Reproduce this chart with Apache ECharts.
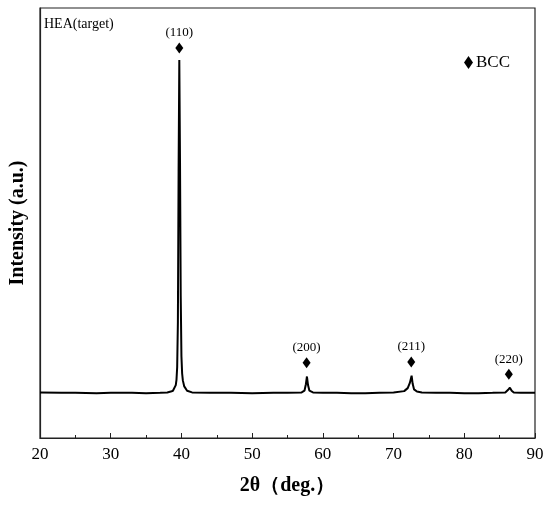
<!DOCTYPE html>
<html>
<head>
<meta charset="utf-8">
<script src="https://cdn.jsdelivr.net/npm/echarts@6/dist/echarts.min.js"></script>
<style>
  html, body { margin: 0; padding: 0; background: #fff; }
  #root { width: 550px; height: 508px; }
</style>
</head>
<body>
<div id="root"></div>
<script>
  // XRD pattern (2theta in deg, intensity in arbitrary units 0-100)
  var twoTheta = [20, 23, 25, 28, 30, 33, 35, 37, 38, 38.5, 38.8, 39.0, 39.2, 39.3, 39.4, 39.5, 39.6, 39.7, 39.8, 39.9, 40.0, 40.1, 40.2, 40.4, 40.8, 41.5,
    44, 47, 50, 53, 55, 57.0, 57.4, 57.6, 57.75, 57.9, 58.1, 58.6, 60, 62, 64, 66, 68, 70, 71.5, 72.0, 72.3, 72.55, 72.7,
    72.9, 73.3, 74, 76, 78, 80, 82, 84, 85.8, 86.2, 86.45, 86.7, 87, 88, 90];
  var intensity = [10.6, 10.5, 10.5, 10.4, 10.5, 10.5, 10.4, 10.5, 10.6, 10.8, 11.0, 11.4, 12.3, 13.5, 16.5, 27, 62, 87.9, 64, 33, 19, 15, 13.4, 12, 11, 10.6,
    10.5, 10.5, 10.4, 10.5, 10.5, 10.6, 11, 12.5, 14.3, 12.3, 11, 10.6, 10.5, 10.5, 10.4, 10.4, 10.5, 10.6, 10.9, 11.6, 12.8, 14.5, 12.6,
    11.3, 10.8, 10.6, 10.5, 10.5, 10.4, 10.4, 10.5, 10.6, 11.2, 11.7, 11.0, 10.6, 10.5, 10.5];

  // BCC reflections: position, marker height, label
  var peakPos = [39.7, 57.7, 72.5, 86.3];
  var peakMark = [90.7, 17.5, 17.7, 14.8];
  var peakLabels = ['(110)', '(200)', '(211)', '(220)'];

  var xTicks = [20, 30, 40, 50, 60, 70, 80, 90];

  var serif = '"Liberation Serif", "Times New Roman", serif';

  var chart = echarts.init(document.getElementById('root'));

  var line = twoTheta.map(function (x, i) { return [x, intensity[i]]; });
  var marks = peakPos.map(function (x, i) { return { value: [x, peakMark[i]], name: peakLabels[i] }; });

  chart.setOption({
    animation: false,
    title: {
      text: 'HEA(target)',
      left: 44, top: 17,
      padding: 0,
      textStyle: { fontFamily: serif, fontSize: 14, fontWeight: 'normal', color: '#000' }
    },
    legend: {
      data: ['BCC'],
      left: 459, top: 49,
      itemWidth: 9, itemHeight: 13, itemGap: 4,
      textStyle: { fontFamily: serif, fontSize: 17, color: '#000', padding: [0, 0, 0, -2] }
    },
    grid: {
      left: 38, right: 15, top: 8, bottom: 70,
      show: true, borderColor: '#222', borderWidth: 1.2, backgroundColor: '#fff'
    },
    xAxis: {
      type: 'value',
      min: xTicks[0], max: xTicks[xTicks.length - 1], interval: 10,
      name: '2θ（deg.）',
      nameLocation: 'middle', nameGap: 38,
      nameTextStyle: { fontFamily: serif, fontSize: 20, fontWeight: 'bold', color: '#000' },
      axisLine: { lineStyle: { color: '#222', width: 1.2 } },
      axisTick: { inside: true, length: 5, lineStyle: { color: '#222' } },
      minorTick: { show: true, splitNumber: 2, length: 3, lineStyle: { color: '#222' } },
      splitLine: { show: false },
      axisLabel: { fontFamily: serif, fontSize: 17, color: '#000', margin: 8 }
    },
    yAxis: {
      type: 'value',
      min: 0, max: 100,
      name: 'Intensity (a.u.)',
      nameLocation: 'middle', nameGap: 12,
      nameTextStyle: { fontFamily: serif, fontSize: 20, fontWeight: 'bold', color: '#000' },
      axisLine: { show: true, lineStyle: { color: '#222', width: 1.2 } },
      axisTick: { show: false },
      axisLabel: { show: false },
      splitLine: { show: false }
    },
    series: [
      {
        name: 'HEA',
        type: 'line',
        data: line,
        showSymbol: false,
        smooth: false,
        lineStyle: { color: '#000', width: 2 },
        z: 2
      },
      {
        name: 'BCC',
        type: 'scatter',
        data: marks,
        symbol: 'diamond',
        symbolSize: [8, 11],
        itemStyle: { color: '#000', opacity: 1 },
        label: {
          show: true, position: 'top', distance: 3,
          formatter: function (p) { return p.name; },
          fontFamily: serif, fontSize: 13, color: '#000'
        },
        z: 3
      }
    ]
  });
</script>
</body>
</html>
